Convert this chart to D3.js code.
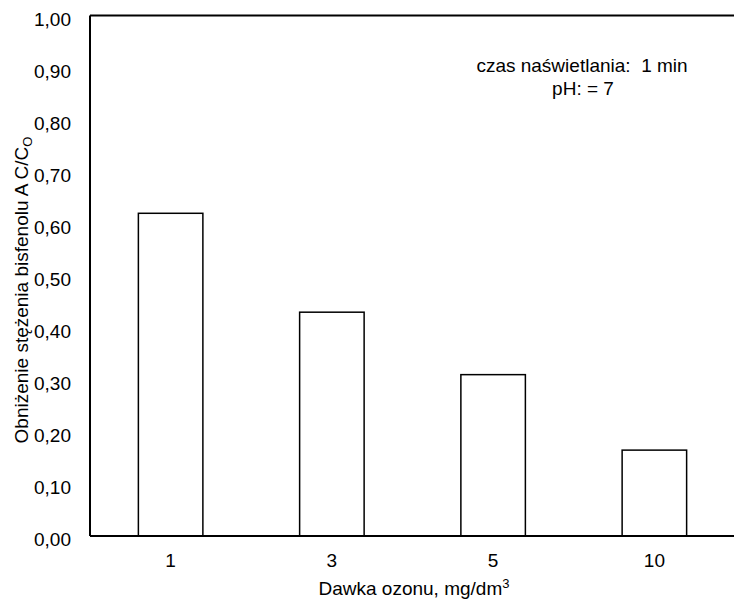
<!DOCTYPE html>
<html>
<head>
<meta charset="utf-8">
<script src="https://cdn.jsdelivr.net/npm/d3@7/dist/d3.min.js"></script>
<style>
  html, body { margin: 0; padding: 0; background: #fff; }
  svg { display: block; }
  text { font-family: "Liberation Sans", Arial, sans-serif; fill: #000; }
</style>
</head>
<body>
<svg id="chart" width="734" height="601"></svg>
<script>
// Ozone dose categories and the resulting BPA concentration ratio
const doses = ["1", "3", "5", "10"];
const ratios = [0.62, 0.43, 0.31, 0.165];
const yTicks = [0, 0.1, 0.2, 0.3, 0.4, 0.5, 0.6, 0.7, 0.8, 0.9, 1.0];

const FS = 19;

const svg = d3.select("#chart");
const margin = { left: 90, top: 15.5, right: -1, bottom: 65 };
const width = 734 - margin.left - margin.right;
const height = 601 - margin.top - margin.bottom;

const g = svg.append("g").attr("transform", `translate(${margin.left},${margin.top})`);

const x = d3.scaleBand().domain(doses).range([0, width]).paddingInner(0.6).paddingOuter(0.3);
const y = d3.scaleLinear().domain([0, 1]).range([height, 0]);

const fmt = v => d3.format(".2f")(v).replace(".", ",");

// Bars
g.selectAll("rect.bar")
  .data(doses.map((d, i) => ({ d, v: ratios[i] })))
  .join("rect")
  .attr("class", "bar")
  .attr("x", d => x(d.d))
  .attr("y", d => y(d.v))
  .attr("width", x.bandwidth())
  .attr("height", d => y(0) - y(d.v))
  .attr("fill", "#fff")
  .attr("stroke", "#000")
  .attr("stroke-width", 1.5);

// Y axis (labels only, no tick marks)
const yAxis = g.append("g")
  .call(d3.axisLeft(y).tickValues(yTicks).tickFormat(fmt).tickSize(0).tickPadding(19));
yAxis.select(".domain").remove();
yAxis.selectAll("text").attr("font-size", FS).attr("dy", "0.5em")
  .style("font-family", "Liberation Sans, Arial, sans-serif");

// X axis (labels only)
const xAxis = g.append("g").attr("transform", `translate(0,${height})`)
  .call(d3.axisBottom(x).tickSize(0).tickPadding(18));
xAxis.select(".domain").remove();
xAxis.selectAll("text").attr("font-size", FS)
  .style("font-family", "Liberation Sans, Arial, sans-serif");

// Frame: left, top and bottom lines
g.append("line").attr("x1", 0).attr("x2", 0).attr("y1", 0).attr("y2", height)
  .attr("stroke", "#000").attr("stroke-width", 2);
g.append("line").attr("x1", 0).attr("x2", width).attr("y1", 0).attr("y2", 0)
  .attr("stroke", "#000").attr("stroke-width", 2);
g.append("line").attr("x1", 0).attr("x2", width).attr("y1", height).attr("y2", height)
  .attr("stroke", "#000").attr("stroke-width", 2);

// Axis titles
const xt = svg.append("text")
  .attr("x", 414).attr("y", 595)
  .attr("text-anchor", "middle").attr("font-size", FS);
xt.append("tspan").text("Dawka ozonu, mg/dm");
xt.append("tspan").attr("dy", -7).attr("font-size", 13).text("3");

const yt = svg.append("text")
  .attr("transform", "translate(28,290) rotate(-90)")
  .attr("text-anchor", "middle").attr("font-size", FS);
yt.append("tspan").text("Obniżenie stężenia bisfenolu A C/C");
yt.append("tspan").attr("dy", 4).attr("font-size", 13).text("O");

// Conditions note
svg.append("text").attr("x", 582).attr("y", 72).attr("text-anchor", "middle")
  .attr("font-size", FS).attr("xml:space", "preserve").text("czas naświetlania:  1 min");
svg.append("text").attr("x", 583).attr("y", 95).attr("text-anchor", "middle")
  .attr("font-size", FS).text("pH: = 7");
</script>
</body>
</html>
